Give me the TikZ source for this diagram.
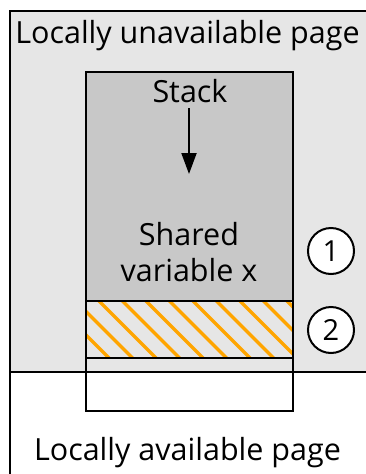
\documentclass[tikz,border=0pt]{standalone}
\usepackage{fontspec}
\setmainfont{Open Sans}
\usetikzlibrary{arrows.meta}
\definecolor{bgpage}{RGB}{230,230,230}
\definecolor{stackgray}{RGB}{200,200,200}
\definecolor{hatchorange}{RGB}{255,165,0}
\begin{document}
\begin{tikzpicture}[x=1pt,y=-1pt,
  lbl/.style={font=\fontsize{30.5}{36}\selectfont, inner sep=0pt, anchor=base},
  border/.style={draw=black, line width=2pt},
  numcircle/.style={circle, draw=black, line width=2pt, fill=white, minimum size=46pt, inner sep=0pt, font=\fontsize{29}{34}\selectfont},
  hatchline/.style={draw=hatchorange, line width=3.2pt}]
\useasboundingbox (0,0) rectangle (365,474);
% upper page
\fill[bgpage] (10,11) rectangle (375,372);
\draw[border] (375,11) -- (10,11) -- (10,480);
\draw[border] (10,372) -- (375,372);
% stack area
\fill[stackgray] (86,72) rectangle (293,301);
% hatched area
\begin{scope}
\clip (86,301) rectangle (293,358);
\foreach \k in {-4,...,9} {
  \draw[hatchline] ({100+23.5*\k-10},292) -- ({100+23.5*\k+70},372);
}
\end{scope}
\draw[border] (86,72) rectangle (293,411);
\draw[border] (86,301) -- (293,301);
\draw[border] (86,358) -- (293,358);
% texts
\node[lbl] (top) at (187.5,43) {Locally unavailable page};
\node[lbl] (stack) at (190,102) {Stack};
\node[lbl] (shared) at (189,245) {Shared};
\node[lbl] (varx) at (189,281) {variable x};
\node[lbl] (bottom) at (187.5,460) {Locally available page};
\coordinate (arrowend) at (189,174);
\draw[line width=2pt, -{Triangle[length=21pt,width=15pt]}] (189,108) -- (arrowend);
\node[numcircle] (one) at (331,251) {1};
\node[numcircle] (two) at (331,330) {2};
\end{tikzpicture}
\end{document}
